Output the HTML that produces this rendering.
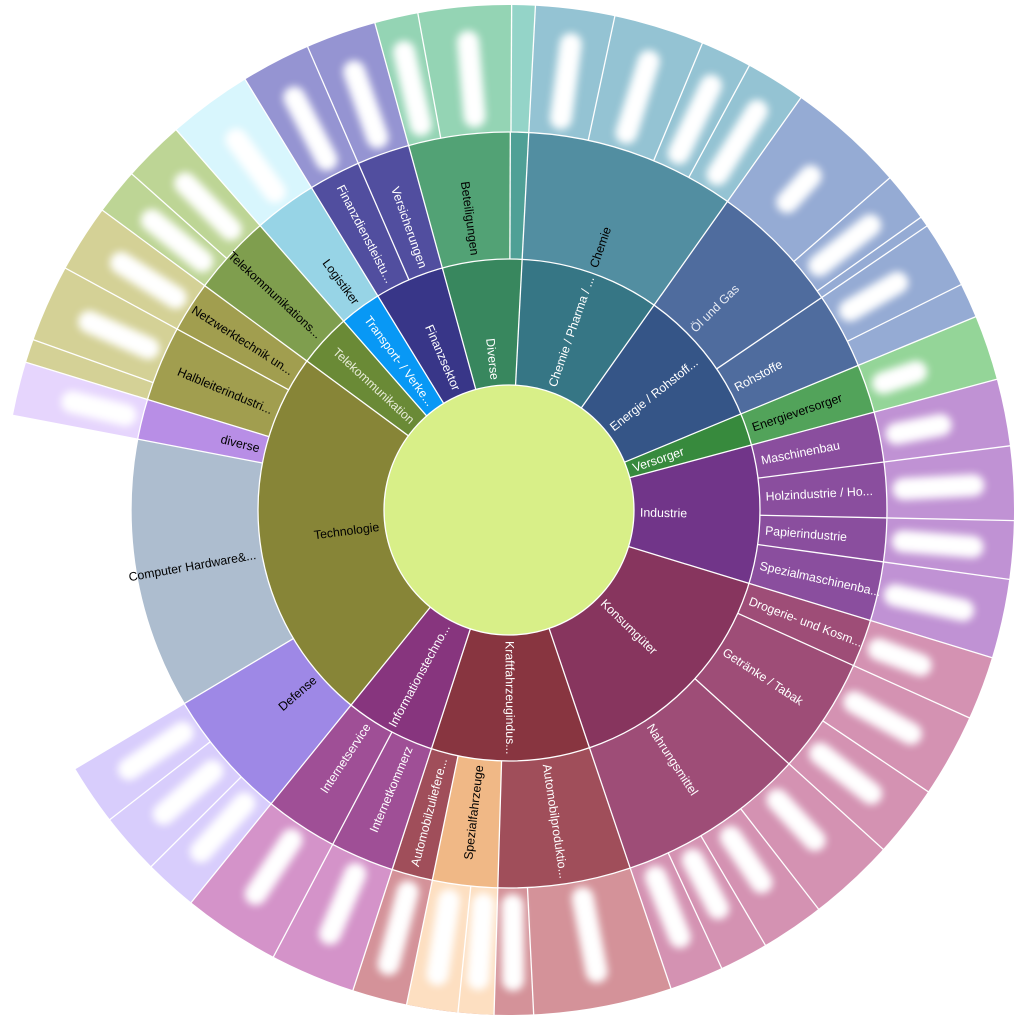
<!DOCTYPE html>
<html><head><meta charset="utf-8"><style>
html,body{margin:0;padding:0;background:#fff;width:1027px;height:1019px;overflow:hidden}
svg{display:block;overflow:hidden}
text{font-family:"Liberation Sans",sans-serif;font-size:12.3px}
</style></head><body>
<svg width="1027" height="1019" viewBox="0 0 1027 1019" xmlns="http://www.w3.org/2000/svg">
<defs><filter id="b" x="-50%" y="-50%" width="200%" height="200%"><feGaussianBlur stdDeviation="4"/></filter>
<clipPath id="c"><rect x="0" y="0" width="1027" height="1019"/></clipPath></defs>
<g clip-path="url(#c)">
<!-- ring1 -->
<g fill="none" stroke-width="126">
<circle cx="509" cy="510" r="188" pathLength="360" stroke="#38875e" stroke-dasharray="18.4 360" transform="rotate(254.6 509 510)"/>
<circle cx="509" cy="510" r="188" pathLength="360" stroke="#367685" stroke-dasharray="32.3 360" transform="rotate(-87 509 510)"/>
<circle cx="509" cy="510" r="188" pathLength="360" stroke="#355587" stroke-dasharray="32.2 360" transform="rotate(-54.7 509 510)"/>
<circle cx="509" cy="510" r="188" pathLength="360" stroke="#378a3d" stroke-dasharray="7.5 360" transform="rotate(-22.5 509 510)"/>
<circle cx="509" cy="510" r="188" pathLength="360" stroke="#713589" stroke-dasharray="32 360" transform="rotate(-15 509 510)"/>
<circle cx="509" cy="510" r="188" pathLength="360" stroke="#87355e" stroke-dasharray="54.3 360" transform="rotate(17 509 510)"/>
<circle cx="509" cy="510" r="188" pathLength="360" stroke="#883540" stroke-dasharray="36.7 360" transform="rotate(71.3 509 510)"/>
<circle cx="509" cy="510" r="188" pathLength="360" stroke="#87357e" stroke-dasharray="21 360" transform="rotate(108 509 510)"/>
<circle cx="509" cy="510" r="188" pathLength="360" stroke="#878537" stroke-dasharray="87.4 360" transform="rotate(129 509 510)"/>
<circle cx="509" cy="510" r="188" pathLength="360" stroke="#6a8a36" stroke-dasharray="12.4 360" transform="rotate(216.4 509 510)"/>
<circle cx="509" cy="510" r="188" pathLength="360" stroke="#0898f5" stroke-dasharray="9.7 360" transform="rotate(228.8 509 510)"/>
<circle cx="509" cy="510" r="188" pathLength="360" stroke="#383688" stroke-dasharray="16.1 360" transform="rotate(238.5 509 510)"/>
</g>
<!-- ring2 -->
<g fill="none" stroke-width="127">
<circle cx="509" cy="510" r="314.5" pathLength="360" stroke="#52a275" stroke-dasharray="15.6 360" transform="rotate(254.6 509 510)"/>
<circle cx="509" cy="510" r="314.5" pathLength="360" stroke="#4fa096" stroke-dasharray="2.8 360" transform="rotate(-89.8 509 510)"/>
<circle cx="509" cy="510" r="314.5" pathLength="360" stroke="#528ea1" stroke-dasharray="32.3 360" transform="rotate(-87 509 510)"/>
<circle cx="509" cy="510" r="314.5" pathLength="360" stroke="#4f6c9e" stroke-dasharray="32.2 360" transform="rotate(-54.7 509 510)"/>
<circle cx="509" cy="510" r="314.5" pathLength="360" stroke="#52a35a" stroke-dasharray="7.5 360" transform="rotate(-22.5 509 510)"/>
<circle cx="509" cy="510" r="314.5" pathLength="360" stroke="#8a4e9e" stroke-dasharray="32 360" transform="rotate(-15 509 510)"/>
<circle cx="509" cy="510" r="314.5" pathLength="360" stroke="#9e4d77" stroke-dasharray="54.3 360" transform="rotate(17 509 510)"/>
<circle cx="509" cy="510" r="314.5" pathLength="360" stroke="#a04e5a" stroke-dasharray="36.7 360" transform="rotate(71.3 509 510)"/>
<circle cx="509" cy="510" r="314.5" pathLength="360" stroke="#f0b886" stroke-dasharray="10 360" transform="rotate(91.7 509 510)"/>
<circle cx="509" cy="510" r="314.5" pathLength="360" stroke="#9f4f96" stroke-dasharray="21 360" transform="rotate(108 509 510)"/>
<circle cx="509" cy="510" r="314.5" pathLength="360" stroke="#9e88e6" stroke-dasharray="20.2 360" transform="rotate(129 509 510)"/>
<circle cx="509" cy="510" r="314.5" pathLength="360" stroke="#adbdcf" stroke-dasharray="41.6 360" transform="rotate(149.2 509 510)"/>
<circle cx="509" cy="510" r="314.5" pathLength="360" stroke="#b88ee6" stroke-dasharray="6.2 360" transform="rotate(190.8 509 510)"/>
<circle cx="509" cy="510" r="314.5" pathLength="360" stroke="#a19e4f" stroke-dasharray="19.4 360" transform="rotate(197 509 510)"/>
<circle cx="509" cy="510" r="314.5" pathLength="360" stroke="#7f9e4e" stroke-dasharray="12.4 360" transform="rotate(216.4 509 510)"/>
<circle cx="509" cy="510" r="314.5" pathLength="360" stroke="#97d4e6" stroke-dasharray="9.7 360" transform="rotate(228.8 509 510)"/>
<circle cx="509" cy="510" r="314.5" pathLength="360" stroke="#514e9f" stroke-dasharray="16.1 360" transform="rotate(238.5 509 510)"/>
</g>
<!-- ring3 -->
<g fill="none" stroke-width="127">
<circle cx="509" cy="510" r="441.5" pathLength="360" stroke="#94d4b4" stroke-dasharray="15.7 360" transform="rotate(254.6 509 510)"/>
<circle cx="509" cy="510" r="441.5" pathLength="360" stroke="#94d4c8" stroke-dasharray="2.7 360" transform="rotate(-89.7 509 510)"/>
<circle cx="509" cy="510" r="441.5" pathLength="360" stroke="#94c3d3" stroke-dasharray="32.3 360" transform="rotate(-87 509 510)"/>
<circle cx="509" cy="510" r="441.5" pathLength="360" stroke="#95abd4" stroke-dasharray="32.2 360" transform="rotate(-54.7 509 510)"/>
<circle cx="509" cy="510" r="441.5" pathLength="360" stroke="#94d598" stroke-dasharray="7.5 360" transform="rotate(-22.5 509 510)"/>
<circle cx="509" cy="510" r="441.5" pathLength="360" stroke="#c092d4" stroke-dasharray="32 360" transform="rotate(-15 509 510)"/>
<circle cx="509" cy="510" r="441.5" pathLength="360" stroke="#d492b2" stroke-dasharray="54.3 360" transform="rotate(17 509 510)"/>
<circle cx="509" cy="510" r="441.5" pathLength="360" stroke="#d49299" stroke-dasharray="36.7 360" transform="rotate(71.3 509 510)"/>
<circle cx="509" cy="510" r="441.5" pathLength="360" stroke="#fddfc1" stroke-dasharray="10 360" transform="rotate(91.7 509 510)"/>
<circle cx="509" cy="510" r="441.5" pathLength="360" stroke="#d493c9" stroke-dasharray="21 360" transform="rotate(108 509 510)"/>
<circle cx="509" cy="510" r="441.5" pathLength="360" stroke="#d8cdfc" stroke-dasharray="20.2 360" transform="rotate(129 509 510)"/>
<circle cx="509" cy="510" r="441.5" pathLength="360" stroke="#e6d5fd" stroke-dasharray="6.2 360" transform="rotate(190.8 509 510)"/>
<circle cx="509" cy="510" r="441.5" pathLength="360" stroke="#d4d196" stroke-dasharray="19.4 360" transform="rotate(197 509 510)"/>
<circle cx="509" cy="510" r="441.5" pathLength="360" stroke="#bdd595" stroke-dasharray="12.4 360" transform="rotate(216.4 509 510)"/>
<circle cx="509" cy="510" r="441.5" pathLength="360" stroke="#d8f6fd" stroke-dasharray="9.7 360" transform="rotate(228.8 509 510)"/>
<circle cx="509" cy="510" r="441.5" pathLength="360" stroke="#9594d2" stroke-dasharray="16.1 360" transform="rotate(238.5 509 510)"/>
</g>
<!-- blurred outer labels -->
<g stroke="#fff" stroke-width="22" stroke-linecap="round" filter="url(#b)">
<line x1="509" y1="115" x2="509" y2="40" transform="rotate(347.1 509 510)"/>
<line x1="509" y1="115" x2="509" y2="40" transform="rotate(355 509 510)"/>
<line x1="509" y1="115" x2="509" y2="40" transform="rotate(7.55 509 510)"/>
<line x1="509" y1="115" x2="509" y2="40" transform="rotate(17.3 509 510)"/>
<line x1="509" y1="115" x2="509" y2="40" transform="rotate(25.45 509 510)"/>
<line x1="509" y1="115" x2="509" y2="40" transform="rotate(31.85 509 510)"/>
<line x1="509" y1="95" x2="509" y2="60" transform="rotate(42.1 509 510)"/>
<line x1="509" y1="115" x2="509" y2="50" transform="rotate(51.75 509 510)"/>
<line x1="509" y1="115" x2="509" y2="60" transform="rotate(59.65 509 510)"/>
<line x1="509" y1="115" x2="509" y2="80" transform="rotate(71.25 509 510)"/>
<line x1="509" y1="115" x2="509" y2="70" transform="rotate(78.85 509 510)"/>
<line x1="509" y1="115" x2="509" y2="45" transform="rotate(86.95 509 510)"/>
<line x1="509" y1="115" x2="509" y2="45" transform="rotate(94.55 509 510)"/>
<line x1="509" y1="115" x2="509" y2="45" transform="rotate(102.45 509 510)"/>
<line x1="509" y1="115" x2="509" y2="70" transform="rotate(110.65 509 510)"/>
<line x1="509" y1="115" x2="509" y2="50" transform="rotate(119.1 509 510)"/>
<line x1="509" y1="115" x2="509" y2="50" transform="rotate(128.05 509 510)"/>
<line x1="509" y1="115" x2="509" y2="60" transform="rotate(137.2 509 510)"/>
<line x1="509" y1="115" x2="509" y2="60" transform="rotate(145.85 509 510)"/>
<line x1="509" y1="115" x2="509" y2="60" transform="rotate(152.3 509 510)"/>
<line x1="509" y1="115" x2="509" y2="50" transform="rotate(158.2 509 510)"/>
<line x1="509" y1="115" x2="509" y2="40" transform="rotate(169.25 509 510)"/>
<line x1="509" y1="115" x2="509" y2="40" transform="rotate(179.5 509 510)"/>
<line x1="509" y1="115" x2="509" y2="40" transform="rotate(183.75 509 510)"/>
<line x1="509" y1="115" x2="509" y2="40" transform="rotate(188.75 509 510)"/>
<line x1="509" y1="115" x2="509" y2="40" transform="rotate(194.85 509 510)"/>
<line x1="509" y1="115" x2="509" y2="50" transform="rotate(202.9 509 510)"/>
<line x1="509" y1="115" x2="509" y2="50" transform="rotate(213.4 509 510)"/>
<line x1="509" y1="115" x2="509" y2="50" transform="rotate(222.05 509 510)"/>
<line x1="509" y1="115" x2="509" y2="50" transform="rotate(228.65 509 510)"/>
<line x1="509" y1="115" x2="509" y2="50" transform="rotate(235.7 509 510)"/>
<line x1="509" y1="115" x2="509" y2="60" transform="rotate(283.9 509 510)"/>
<line x1="509" y1="115" x2="509" y2="50" transform="rotate(294.15 509 510)"/>
<line x1="509" y1="115" x2="509" y2="50" transform="rotate(302.5 509 510)"/>
<line x1="509" y1="115" x2="509" y2="50" transform="rotate(309.05 509 510)"/>
<line x1="509" y1="115" x2="509" y2="50" transform="rotate(315.25 509 510)"/>
<line x1="509" y1="115" x2="509" y2="50" transform="rotate(323.65 509 510)"/>
<line x1="509" y1="115" x2="509" y2="45" transform="rotate(332.5 509 510)"/>
<line x1="509" y1="115" x2="509" y2="45" transform="rotate(340.55 509 510)"/>
</g>
<!-- separators -->
<g stroke="#fff" stroke-width="1.3">
<line x1="509" y1="385" x2="509" y2="259" transform="rotate(344.6 509 510)"/>
<line x1="509" y1="385" x2="509" y2="259" transform="rotate(3 509 510)"/>
<line x1="509" y1="385" x2="509" y2="259" transform="rotate(35.3 509 510)"/>
<line x1="509" y1="385" x2="509" y2="259" transform="rotate(67.5 509 510)"/>
<line x1="509" y1="385" x2="509" y2="259" transform="rotate(75 509 510)"/>
<line x1="509" y1="385" x2="509" y2="259" transform="rotate(107 509 510)"/>
<line x1="509" y1="385" x2="509" y2="259" transform="rotate(161.3 509 510)"/>
<line x1="509" y1="385" x2="509" y2="259" transform="rotate(198 509 510)"/>
<line x1="509" y1="385" x2="509" y2="259" transform="rotate(219 509 510)"/>
<line x1="509" y1="385" x2="509" y2="259" transform="rotate(306.4 509 510)"/>
<line x1="509" y1="385" x2="509" y2="259" transform="rotate(318.8 509 510)"/>
<line x1="509" y1="385" x2="509" y2="259" transform="rotate(328.5 509 510)"/>
</g>
<g stroke="#fff" stroke-width="1.3">
<line x1="509" y1="259" x2="509" y2="132" transform="rotate(344.6 509 510)"/>
<line x1="509" y1="259" x2="509" y2="132" transform="rotate(0.2 509 510)"/>
<line x1="509" y1="259" x2="509" y2="132" transform="rotate(3 509 510)"/>
<line x1="509" y1="259" x2="509" y2="132" transform="rotate(35.3 509 510)"/>
<line x1="509" y1="259" x2="509" y2="132" transform="rotate(55.8 509 510)"/>
<line x1="509" y1="259" x2="509" y2="132" transform="rotate(67.5 509 510)"/>
<line x1="509" y1="259" x2="509" y2="132" transform="rotate(75 509 510)"/>
<line x1="509" y1="259" x2="509" y2="132" transform="rotate(82.7 509 510)"/>
<line x1="509" y1="259" x2="509" y2="132" transform="rotate(91.2 509 510)"/>
<line x1="509" y1="259" x2="509" y2="132" transform="rotate(97.9 509 510)"/>
<line x1="509" y1="259" x2="509" y2="132" transform="rotate(107 509 510)"/>
<line x1="509" y1="259" x2="509" y2="132" transform="rotate(114.3 509 510)"/>
<line x1="509" y1="259" x2="509" y2="132" transform="rotate(132.2 509 510)"/>
<line x1="509" y1="259" x2="509" y2="132" transform="rotate(161.3 509 510)"/>
<line x1="509" y1="259" x2="509" y2="132" transform="rotate(181.7 509 510)"/>
<line x1="509" y1="259" x2="509" y2="132" transform="rotate(191.7 509 510)"/>
<line x1="509" y1="259" x2="509" y2="132" transform="rotate(198 509 510)"/>
<line x1="509" y1="259" x2="509" y2="132" transform="rotate(207.8 509 510)"/>
<line x1="509" y1="259" x2="509" y2="132" transform="rotate(219 509 510)"/>
<line x1="509" y1="259" x2="509" y2="132" transform="rotate(239.2 509 510)"/>
<line x1="509" y1="259" x2="509" y2="132" transform="rotate(280.8 509 510)"/>
<line x1="509" y1="259" x2="509" y2="132" transform="rotate(287 509 510)"/>
<line x1="509" y1="259" x2="509" y2="132" transform="rotate(298.6 509 510)"/>
<line x1="509" y1="259" x2="509" y2="132" transform="rotate(306.4 509 510)"/>
<line x1="509" y1="259" x2="509" y2="132" transform="rotate(318.8 509 510)"/>
<line x1="509" y1="259" x2="509" y2="132" transform="rotate(328.5 509 510)"/>
<line x1="509" y1="259" x2="509" y2="132" transform="rotate(336.5 509 510)"/>
</g>
<g stroke="#fff" stroke-width="1.3">
<line x1="509" y1="132" x2="509" y2="3" transform="rotate(344.6 509 510)"/>
<line x1="509" y1="132" x2="509" y2="3" transform="rotate(349.6 509 510)"/>
<line x1="509" y1="132" x2="509" y2="3" transform="rotate(0.3 509 510)"/>
<line x1="509" y1="132" x2="509" y2="3" transform="rotate(3 509 510)"/>
<line x1="509" y1="132" x2="509" y2="3" transform="rotate(12.1 509 510)"/>
<line x1="509" y1="132" x2="509" y2="3" transform="rotate(22.5 509 510)"/>
<line x1="509" y1="132" x2="509" y2="3" transform="rotate(28.4 509 510)"/>
<line x1="509" y1="132" x2="509" y2="3" transform="rotate(35.3 509 510)"/>
<line x1="509" y1="132" x2="509" y2="3" transform="rotate(48.9 509 510)"/>
<line x1="509" y1="132" x2="509" y2="3" transform="rotate(54.6 509 510)"/>
<line x1="509" y1="132" x2="509" y2="3" transform="rotate(55.8 509 510)"/>
<line x1="509" y1="132" x2="509" y2="3" transform="rotate(63.5 509 510)"/>
<line x1="509" y1="132" x2="509" y2="3" transform="rotate(67.5 509 510)"/>
<line x1="509" y1="132" x2="509" y2="3" transform="rotate(75 509 510)"/>
<line x1="509" y1="132" x2="509" y2="3" transform="rotate(82.7 509 510)"/>
<line x1="509" y1="132" x2="509" y2="3" transform="rotate(91.2 509 510)"/>
<line x1="509" y1="132" x2="509" y2="3" transform="rotate(97.9 509 510)"/>
<line x1="509" y1="132" x2="509" y2="3" transform="rotate(107 509 510)"/>
<line x1="509" y1="132" x2="509" y2="3" transform="rotate(114.3 509 510)"/>
<line x1="509" y1="132" x2="509" y2="3" transform="rotate(123.9 509 510)"/>
<line x1="509" y1="132" x2="509" y2="3" transform="rotate(132.2 509 510)"/>
<line x1="509" y1="132" x2="509" y2="3" transform="rotate(142.2 509 510)"/>
<line x1="509" y1="132" x2="509" y2="3" transform="rotate(149.5 509 510)"/>
<line x1="509" y1="132" x2="509" y2="3" transform="rotate(155.1 509 510)"/>
<line x1="509" y1="132" x2="509" y2="3" transform="rotate(161.3 509 510)"/>
<line x1="509" y1="132" x2="509" y2="3" transform="rotate(177.2 509 510)"/>
<line x1="509" y1="132" x2="509" y2="3" transform="rotate(181.7 509 510)"/>
<line x1="509" y1="132" x2="509" y2="3" transform="rotate(185.8 509 510)"/>
<line x1="509" y1="132" x2="509" y2="3" transform="rotate(191.7 509 510)"/>
<line x1="509" y1="132" x2="509" y2="3" transform="rotate(198 509 510)"/>
<line x1="509" y1="132" x2="509" y2="3" transform="rotate(207.8 509 510)"/>
<line x1="509" y1="132" x2="509" y2="3" transform="rotate(219 509 510)"/>
<line x1="509" y1="132" x2="509" y2="3" transform="rotate(225.1 509 510)"/>
<line x1="509" y1="132" x2="509" y2="3" transform="rotate(232.2 509 510)"/>
<line x1="509" y1="132" x2="509" y2="3" transform="rotate(239.2 509 510)"/>
<line x1="509" y1="132" x2="509" y2="3" transform="rotate(280.8 509 510)"/>
<line x1="509" y1="132" x2="509" y2="3" transform="rotate(287 509 510)"/>
<line x1="509" y1="132" x2="509" y2="3" transform="rotate(289.7 509 510)"/>
<line x1="509" y1="132" x2="509" y2="3" transform="rotate(298.6 509 510)"/>
<line x1="509" y1="132" x2="509" y2="3" transform="rotate(306.4 509 510)"/>
<line x1="509" y1="132" x2="509" y2="3" transform="rotate(311.7 509 510)"/>
<line x1="509" y1="132" x2="509" y2="3" transform="rotate(318.8 509 510)"/>
<line x1="509" y1="132" x2="509" y2="3" transform="rotate(328.5 509 510)"/>
<line x1="509" y1="132" x2="509" y2="3" transform="rotate(336.5 509 510)"/>
</g>
<circle cx="509" cy="510" r="251" fill="none" stroke="#fff" stroke-width="1.3"/>
<circle cx="509" cy="510" r="378" fill="none" stroke="#fff" stroke-width="1.3"/>
<circle cx="509" cy="510" r="125" fill="#d8ef88" stroke="#fff" stroke-width="1.3"/>
<!-- ring1 labels -->
<g>
<text x="378" y="510" dy="0.35em" text-anchor="end" fill="#fff" transform="rotate(83.8 509 510)">Diverse</text>
<text x="640" y="510" dy="0.35em" fill="#fff" transform="rotate(-70.8 509 510)">Chemie / Pharma / ...</text>
<text x="640" y="510" dy="0.35em" fill="#fff" transform="rotate(-38.6 509 510)">Energie / Rohstoff...</text>
<text x="640" y="510" dy="0.35em" fill="#fff" transform="rotate(-18.75 509 510)">Versorger</text>
<text x="640" y="510" dy="0.35em" fill="#fff" transform="rotate(1 509 510)">Industrie</text>
<text x="640" y="510" dy="0.35em" fill="#fff" transform="rotate(44.2 509 510)">Konsumgüter</text>
<text x="640" y="510" dy="0.35em" fill="#fff" transform="rotate(89.65 509 510)">Kraftfahrzeugindus...</text>
<text x="378" y="510" dy="0.35em" text-anchor="end" fill="#fff" transform="rotate(-61.5 509 510)">Informationstechno...</text>
<text x="378" y="510" dy="0.35em" text-anchor="end" fill="#000" transform="rotate(-7.3 509 510)">Technologie</text>
<text x="378" y="510" dy="0.35em" text-anchor="end" fill="#e8ecd8" transform="rotate(42.6 509 510)">Telekommunikation</text>
<text x="378" y="510" dy="0.35em" text-anchor="end" fill="#fff" transform="rotate(53.65 509 510)">Transport- / Verke...</text>
<text x="378" y="510" dy="0.35em" text-anchor="end" fill="#fff" transform="rotate(66.55 509 510)">Finanzsektor</text>
</g>
<!-- ring2 labels -->
<g>
<text x="252" y="510" dy="0.35em" text-anchor="end" fill="#000" transform="rotate(82.4 509 510)">Beteiligungen</text>
<text x="766" y="510" dy="0.35em" fill="#000" transform="rotate(-70.85 509 510)">Chemie</text>
<text x="766" y="510" dy="0.35em" fill="#e8ecf4" transform="rotate(-44.45 509 510)">Öl und Gas</text>
<text x="766" y="510" dy="0.35em" fill="#fff" transform="rotate(-28.35 509 510)">Rohstoffe</text>
<text x="766" y="510" dy="0.35em" fill="#000" transform="rotate(-18.75 509 510)">Energieversorger</text>
<text x="766" y="510" dy="0.35em" fill="#fff" transform="rotate(-11.15 509 510)">Maschinenbau</text>
<text x="766" y="510" dy="0.35em" fill="#fff" transform="rotate(-3.05 509 510)">Holzindustrie / Ho...</text>
<text x="766" y="510" dy="0.35em" fill="#fff" transform="rotate(4.55 509 510)">Papierindustrie</text>
<text x="766" y="510" dy="0.35em" fill="#fff" transform="rotate(12.45 509 510)">Spezialmaschinenba...</text>
<text x="766" y="510" dy="0.35em" fill="#fff" transform="rotate(20.65 509 510)">Drogerie- und Kosm...</text>
<text x="766" y="510" dy="0.35em" fill="#fff" transform="rotate(33.25 509 510)">Getränke / Tabak</text>
<text x="766" y="510" dy="0.35em" fill="#fff" transform="rotate(56.75 509 510)">Nahrungsmittel</text>
<text x="766" y="510" dy="0.35em" fill="#fff" transform="rotate(81.5 509 510)">Automobilproduktio...</text>
<text x="252" y="510" dy="0.35em" text-anchor="end" fill="#000" transform="rotate(-83.3 509 510)">Spezialfahrzeuge</text>
<text x="252" y="510" dy="0.35em" text-anchor="end" fill="#fff" transform="rotate(-75.15 509 510)">Automobilzuliefere...</text>
<text x="252" y="510" dy="0.35em" text-anchor="end" fill="#fff" transform="rotate(-67.1 509 510)">Internetkommerz</text>
<text x="252" y="510" dy="0.35em" text-anchor="end" fill="#fff" transform="rotate(-56.6 509 510)">Internetservice</text>
<text x="252" y="510" dy="0.35em" text-anchor="end" fill="#000" transform="rotate(-40.9 509 510)">Defense</text>
<text x="252" y="510" dy="0.35em" text-anchor="end" fill="#000" transform="rotate(-10 509 510)">Computer Hardware&amp;...</text>
<text x="252" y="510" dy="0.35em" text-anchor="end" fill="#000" transform="rotate(13.9 509 510)">diverse</text>
<text x="252" y="510" dy="0.35em" text-anchor="end" fill="#000" transform="rotate(22.8 509 510)">Halbleiterindustri...</text>
<text x="252" y="510" dy="0.35em" text-anchor="end" fill="#000" transform="rotate(32.5 509 510)">Netzwerktechnik un...</text>
<text x="252" y="510" dy="0.35em" text-anchor="end" fill="#000" transform="rotate(42.6 509 510)">Telekommunikations...</text>
<text x="252" y="510" dy="0.35em" text-anchor="end" fill="#000" transform="rotate(53.65 509 510)">Logistiker</text>
<text x="252" y="510" dy="0.35em" text-anchor="end" fill="#fff" transform="rotate(62.5 509 510)">Finanzdienstleistu...</text>
<text x="252" y="510" dy="0.35em" text-anchor="end" fill="#fff" transform="rotate(70.55 509 510)">Versicherungen</text>
</g>
</g>
</svg>
</body></html>
